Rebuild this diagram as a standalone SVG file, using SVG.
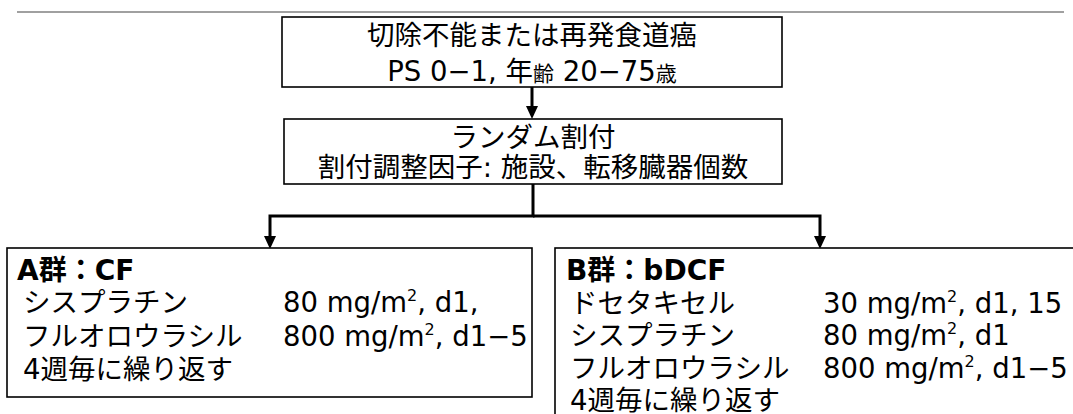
<svg xmlns="http://www.w3.org/2000/svg" width="1073" height="414" viewBox="0 0 1073 414">
<defs>
<style>
.box{fill:#fff;stroke:#000;stroke-width:1.6}
.t{font-family:"DejaVu Sans","Noto Sans CJK JP",sans-serif;font-size:27.5px;fill:#000}
.c{text-anchor:middle}
.h{font-weight:bold;font-size:28px}
.con{fill:none;stroke:#000;stroke-width:3}
.sup{font-size:16px}
</style>
<marker id="ah" markerUnits="userSpaceOnUse" markerWidth="14" markerHeight="12" refX="0" refY="6" orient="auto">
<path d="M0,0 L13,6 L0,12 z" fill="#000"/>
</marker>
</defs>
<rect width="1073" height="414" fill="#fff"/>
<line x1="17" y1="12" x2="1064" y2="12" stroke="#808080" stroke-width="1.6"/>
<g id="connectors">
<path class="con" d="M532,87 V106" marker-end="url(#ah)"/>
<path class="con" d="M533,184 V216 H270 V236" marker-end="url(#ah)"/>
<path class="con" d="M533,216 H820 V236" marker-end="url(#ah)"/>
</g>
<g id="eligibility">
<rect class="box" x="282" y="17" width="500" height="70"/>
<text class="t c" x="532" y="45" font-size="28.5">切除不能または再発食道癌</text>
<text class="t c" x="532" y="81" font-size="24">PS 0−1, 年<tspan font-size="21">齢</tspan> 20−75<tspan font-size="21">歳</tspan></text>
</g>
<g id="randomization">
<rect class="box" x="284" y="119" width="498" height="65"/>
<text class="t c" x="533" y="147">ランダム割付</text>
<text class="t c" x="533" y="177">割付調整因子: 施設、転移臓器個数</text>
</g>
<g id="armA">
<rect class="box" x="7" y="248" width="525" height="149"/>
<text class="t h" x="17" y="280">A群：CF</text>
<text class="t" x="23" y="312">シスプラチン</text>
<text class="t" x="23" y="346">フルオロウラシル</text>
<text class="t" x="23" y="379">4週毎に繰り返す</text>
<text class="t" x="283" y="312">80 mg/m<tspan class="sup" dy="-11">2</tspan><tspan dy="11">, d1,</tspan></text>
<text class="t" x="283" y="346">800 mg/m<tspan class="sup" dy="-11">2</tspan><tspan dy="11">, d1−5</tspan></text>
</g>
<g id="armB">
<rect class="box" x="555" y="248" width="530" height="180"/>
<text class="t h" x="566" y="280">B群：bDCF</text>
<text class="t" x="570" y="313">ドセタキセル</text>
<text class="t" x="570" y="345">シスプラチン</text>
<text class="t" x="570" y="378">フルオロウラシル</text>
<text class="t" x="570" y="410">4週毎に繰り返す</text>
<text class="t" x="823" y="313">30 mg/m<tspan class="sup" dy="-11">2</tspan><tspan dy="11">, d1, 15</tspan></text>
<text class="t" x="823" y="345">80 mg/m<tspan class="sup" dy="-11">2</tspan><tspan dy="11">, d1</tspan></text>
<text class="t" x="823" y="378">800 mg/m<tspan class="sup" dy="-11">2</tspan><tspan dy="11">, d1−5</tspan></text>
</g>
</svg>
